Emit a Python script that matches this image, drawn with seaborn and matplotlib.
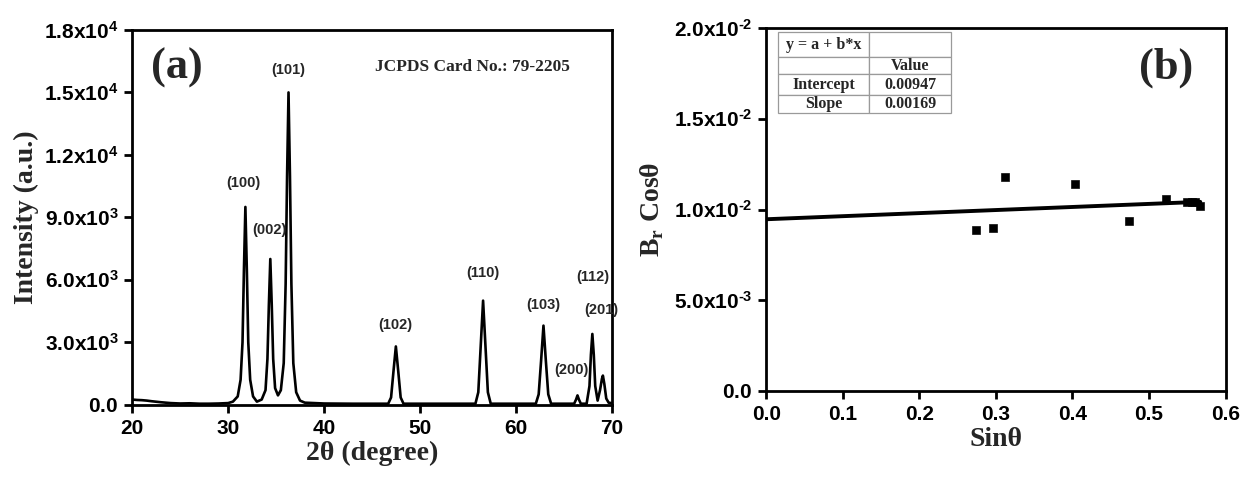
"""
XRD pattern (a) and Williamson-Hall plot (b)
"""

## Import packages
import numpy as np
import pandas as pd
import matplotlib.pyplot as plt
import seaborn as sns


## Data
# (a) XRD pattern
two_theta = [20.0, 20.5, 21.0, 21.5, 22.0, 23.0, 24.0, 25.0, 26.0, 27.0, 28.0, 29.0, 30.0, 30.5, 31.0,
             31.3, 31.5, 31.65, 31.8, 31.95, 32.1, 32.3, 32.6, 33.0, 33.5, 33.9, 34.1, 34.25, 34.4,
             34.55, 34.7, 34.9, 35.2, 35.5, 35.8, 36.0, 36.15, 36.3, 36.45, 36.6, 36.8, 37.1, 37.5,
             38.0, 40.0, 43.0, 46.7, 47.0, 47.25, 47.5, 47.75, 48.0, 48.3, 52.0, 55.8, 56.1, 56.35,
             56.6, 56.85, 57.1, 57.4, 60.0, 62.1, 62.4, 62.65, 62.9, 63.15, 63.4, 63.7, 66.1, 66.3,
             66.45, 66.6, 66.8, 67.4, 67.7, 67.85, 68.0, 68.15, 68.3, 68.55, 68.8, 69.0, 69.1, 69.25,
             69.45, 69.7, 70.0]
intensity = [250, 230, 220, 200, 170, 120, 80, 60, 70, 50, 50, 60, 80, 150, 400,
             1200, 3000, 6500, 9500, 6500, 3000, 1200, 400, 150, 250, 700, 2200, 4800, 7000,
             4800, 2200, 800, 450, 700, 2000, 5800, 11000, 15000, 11000, 5800, 2000, 600, 200,
             100, 60, 50, 50, 350, 1600, 2800, 1600, 350, 50, 50, 50, 600, 2800,
             5000, 2800, 600, 50, 50, 50, 500, 2100, 3800, 2100, 500, 50, 50, 250,
             450, 250, 50, 50, 900, 2400, 3400, 2400, 900, 200, 700, 1250, 1400, 1000,
             300, 100, 80]

# Peak labels (hkl) and where they sit
hkl_labels = ['(100)', '(002)', '(101)', '(102)', '(110)', '(103)', '(200)', '(112)', '(201)']
hkl_x = [31.6, 34.3, 36.3, 47.4, 56.6, 62.9, 65.8, 68.0, 68.9]
hkl_y = [10300, 8050, 15750, 3500, 6000, 4450, 1350, 5800, 4200]

# (b) Williamson-Hall points
sin_theta = [0.274, 0.296, 0.312, 0.403, 0.474, 0.522, 0.550, 0.556, 0.560, 0.567]
br_cos = [0.0089, 0.0090, 0.0118, 0.0114, 0.0094, 0.0106, 0.0104, 0.0104, 0.0104, 0.0102]

# Linear fit parameters
intercept = 0.00947
slope = 0.00169

df_xrd = pd.DataFrame({'two_theta': two_theta, 'intensity': intensity})
df_wh = pd.DataFrame({'sin': sin_theta, 'bcos': br_cos})
fit_x = np.array([0.0, max(sin_theta)])
df_fit = pd.DataFrame({'sin': fit_x, 'bcos': intercept + slope * fit_x})


## Style
sns.set_theme(style='ticks')
plt.rcParams['font.family'] = ['Liberation Serif', 'DejaVu Serif']
plt.rcParams['mathtext.fontset'] = 'custom'
plt.rcParams['mathtext.rm'] = 'Liberation Serif:bold'
plt.rcParams['mathtext.sf'] = 'Liberation Sans:bold'
plt.rcParams['axes.linewidth'] = 2.0

sans = {'family': 'Liberation Sans', 'weight': 'bold'}
serif = {'family': 'Liberation Serif', 'weight': 'bold'}


def sci(v, e):
    if e is None:
        return r'$\mathsf{%s}$' % v
    sign = '\u2010' if e < 0 else ''
    return r'$\mathsf{%sx10^{%s%d}}$' % (v, sign, abs(e))


## Figure
fig = plt.figure(figsize=(12.48, 4.83), dpi=100)
ax1 = fig.add_axes([0.106, 0.162, 0.384, 0.776])
ax2 = fig.add_axes([0.614, 0.190, 0.368, 0.752])


## PLOT (a)
sns.lineplot(ax=ax1, data=df_xrd, x='two_theta', y='intensity', color='black', linewidth=1.9)
ax1.set_xlim(20, 70)
ax1.set_ylim(0, 18000)
ax1.set_xticks(range(20, 71, 10))
ax1.set_xticklabels([str(v) for v in range(20, 71, 10)], fontdict=sans, fontsize=15)
yt = [0, 3000, 6000, 9000, 12000, 15000, 18000]
ylab = [sci('0.0', None), sci('3.0', 3), sci('6.0', 3), sci('9.0', 3), sci('1.2', 4),
        sci('1.5', 4), sci('1.8', 4)]
ax1.set_yticks(yt)
ax1.set_yticklabels(ylab, fontsize=15)
ax1.set_xlabel('2θ (degree)', fontdict=serif, fontsize=20, labelpad=2)
ax1.set_ylabel('Intensity (a.u.)', fontdict=serif, fontsize=20, labelpad=4)

for lab, x, y in zip(hkl_labels, hkl_x, hkl_y):
    ax1.text(x, y, lab, ha='center', va='bottom', fontdict=sans, fontsize=10.5)

ax1.text(0.04, 0.90, '(a)', transform=ax1.transAxes, fontdict=serif, fontsize=32,
         va='center', ha='left')
ax1.text(0.71, 0.90, 'JCPDS Card No.: 79-2205', transform=ax1.transAxes, fontdict=serif,
         fontsize=12.5, va='center', ha='center')


## PLOT (b)
sns.lineplot(ax=ax2, data=df_fit, x='sin', y='bcos', color='black', linewidth=2.8)
sns.scatterplot(ax=ax2, data=df_wh, x='sin', y='bcos', color='black', marker='s', s=32,
                edgecolor='black', zorder=3)
ax2.set_xlim(0, 0.6)
ax2.set_ylim(0, 0.02)
xt = [0.0, 0.1, 0.2, 0.3, 0.4, 0.5, 0.6]
ax2.set_xticks(xt)
ax2.set_xticklabels(['%.1f' % v for v in xt], fontdict=sans, fontsize=15)
ax2.set_yticks([0, 0.005, 0.01, 0.015, 0.02])
ax2.set_yticklabels([sci('0.0', None), sci('5.0', -3), sci('1.0', -2), sci('1.5', -2),
                     sci('2.0', -2)], fontsize=15)
ax2.set_xlabel('Sinθ', fontdict=serif, fontsize=20, labelpad=2)
ax2.set_ylabel(r'B$_{\mathrm{r}}$ Cosθ', fontdict=serif, fontsize=20, labelpad=6)

ax2.text(0.87, 0.89, '(b)', transform=ax2.transAxes, fontdict=serif, fontsize=32,
         va='center', ha='center')

# Fit result table
cells = [['y = a + b*x', ''], ['', 'Value'], ['Intercept', '%.5f' % intercept],
         ['Slope', '%.5f' % slope]]
row_h = [25, 17, 21, 18]
col_w = [91, 82]
tab = ax2.table(cellText=cells, bbox=[0.026, 0.766, 0.377, 0.223], cellLoc='center')
tab.auto_set_font_size(False)
for (r, c), cell in tab.get_celld().items():
    cell.set_height(row_h[r])
    cell.set_width(col_w[c])
    cell.set_edgecolor('#9a9a9a')
    cell.set_linewidth(0.9)
    cell.get_text().set_fontproperties(dict(serif))
    cell.get_text().set_fontsize(11.5)


# Common
for ax in (ax1, ax2):
    ax.tick_params(direction='out', length=6, width=2, colors='black', pad=4)
    for s in ax.spines.values():
        s.set_visible(True)
        s.set_color('black')

plt.savefig('out.png', dpi=100)
